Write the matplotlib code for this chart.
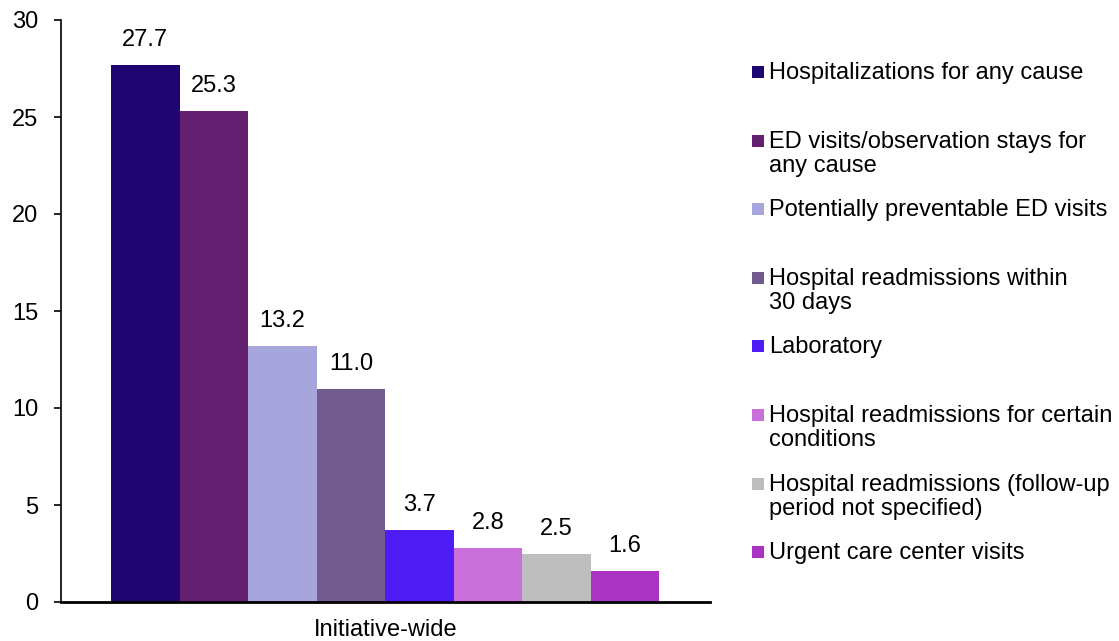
import matplotlib
matplotlib.use("Agg")
import matplotlib.pyplot as plt
from matplotlib.patches import Rectangle

plt.rcParams["font.family"] = ["Liberation Sans", "DejaVu Sans"]

# Data
category = "Initiative-wide"
series_names = [
    "Hospitalizations for any cause",
    "ED visits/observation stays for\nany cause",
    "Potentially preventable ED visits",
    "Hospital readmissions within\n30 days",
    "Laboratory",
    "Hospital readmissions for certain\nconditions",
    "Hospital readmissions (follow-up\nperiod not specified)",
    "Urgent care center visits",
]
values = [27.7, 25.3, 13.2, 11.0, 3.7, 2.8, 2.5, 1.6]
colors = ["#1F0572", "#631F70", "#A6A6DC", "#715A8E",
          "#4E1CF5", "#C86FDA", "#BEBEBE", "#AA33C4"]
y_ticks = [0, 5, 10, 15, 20, 25, 30]

W, H = 1119, 641
fig = plt.figure(figsize=(W / 100, H / 100), dpi=100)
ax = fig.add_axes([60.5 / W, 1 - 602 / H, (710 - 60.5) / W, (602 - 20) / H])

n = len(values)
group_width = 0.844
bw = group_width / n
fs = 17
for i, (v, c, name) in enumerate(zip(values, colors, series_names)):
    x = -group_width / 2 + bw * (i + 0.5)
    ax.bar(x, v, width=bw, color=c, linewidth=0)
    ax.annotate(f"{v:.1f}", (x, v), xytext=(0, 10), textcoords="offset points",
                ha="center", va="bottom", fontsize=fs)

ax.set_xlim(-0.5, 0.5)
ax.set_ylim(0, 30)
ax.set_yticks(y_ticks)
ax.set_xticks([0])
ax.set_xticklabels([category])
ax.tick_params(axis="x", length=0, pad=12, labelsize=fs)
ax.tick_params(axis="y", length=5, width=1.2, pad=11, labelsize=fs, direction="out")
for s in ["top", "right"]:
    ax.spines[s].set_visible(False)
ax.spines["left"].set_linewidth(1.2)
ax.spines["bottom"].set_linewidth(2)

# Legend drawn as swatches and text along the right side
lx = 752 / W
tx = 769 / W
y0 = 72
step = 68.6
sq = 12
for i, (name, c) in enumerate(zip(series_names, colors)):
    yc = y0 + i * step
    fig.patches.append(Rectangle((lx, 1 - (yc + sq / 2) / H), sq / W, sq / H,
                                 transform=fig.transFigure, color=c, linewidth=0))
    fig.text(tx, 1 - (yc - 10) / H, name, ha="left", va="top",
             fontsize=fs, linespacing=1.12)

fig.savefig("out.png", dpi=100)
